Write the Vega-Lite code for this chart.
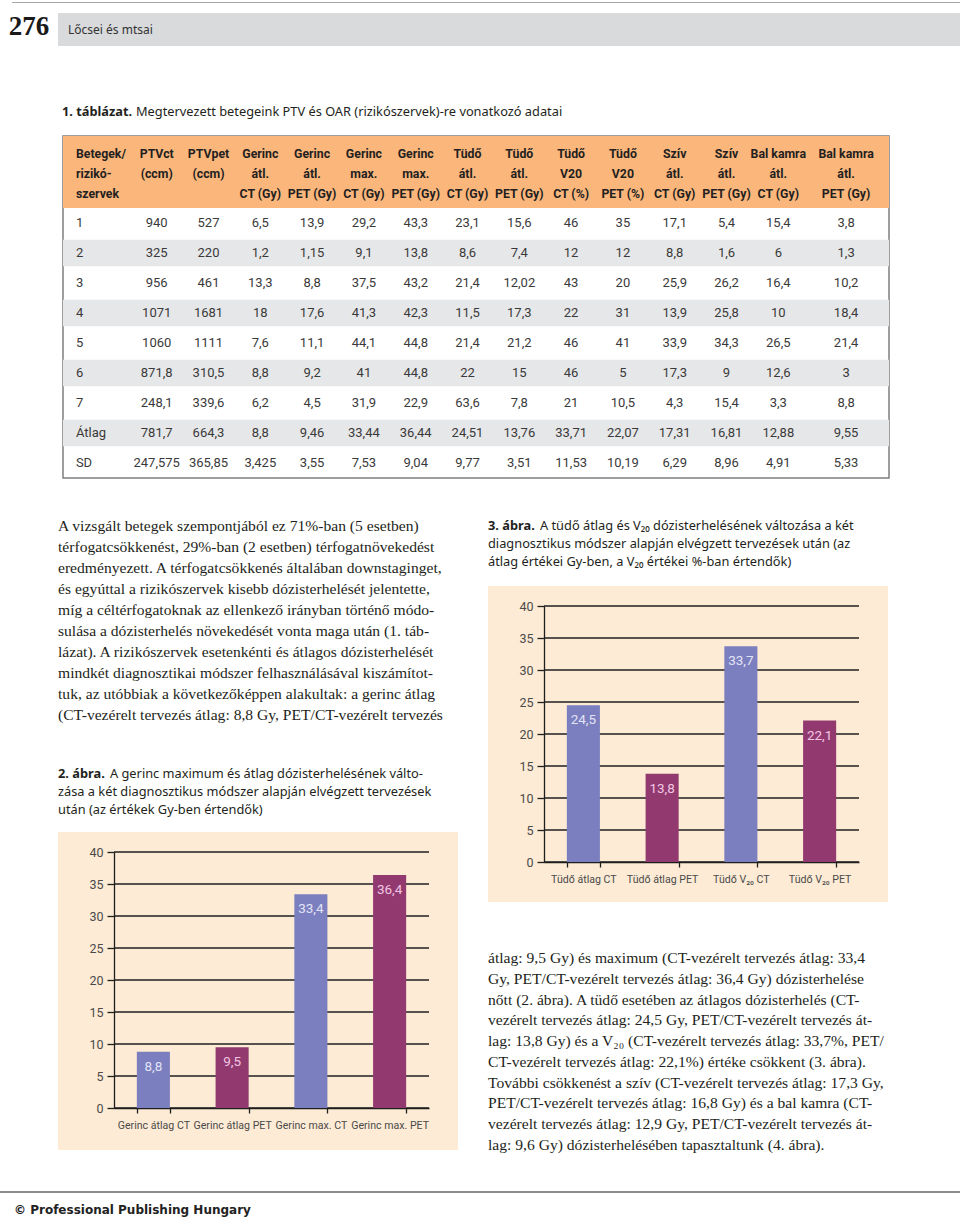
{
  "$schema": "https://vega.github.io/schema/vega-lite/v6.json",
  "padding": 0,
  "background": "white",
  "config": {
    "view": {"stroke": null},
    "concat": {"spacing": 0},
    "locale": {"number": {"decimal": ",", "thousands": " ", "grouping": [3], "currency": ["", " Ft"]}},
    "text": {"color": "#231f20"},
    "axisY": {"labelOverlap": false}
  },
  "datasets": {
    "fejresz": [
      {"resz": "oldalszam", "szoveg": "276"},
      {"resz": "elofej", "szoveg": "Lőcsei és mtsai"}
    ],
    "tablacim": [
      {"resz": "jelolo", "szoveg": "1. táblázat."},
      {"resz": "szoveg", "szoveg": "Megtervezett betegeink PTV és OAR (rizikószervek)-re vonatkozó adatai"}
    ],
    "fejlec": [
      {"oszlop": "beteg", "l1": "Betegek/", "l2": "rizikó-", "l3": "szervek"},
      {"oszlop": "ptv_ct", "l1": "PTVct", "l2": "(ccm)"},
      {"oszlop": "ptv_pet", "l1": "PTVpet", "l2": "(ccm)"},
      {"oszlop": "ger_atl_ct", "l1": "Gerinc", "l2": "átl.", "l3": "CT (Gy)"},
      {"oszlop": "ger_atl_pet", "l1": "Gerinc", "l2": "átl.", "l3": "PET (Gy)"},
      {"oszlop": "ger_max_ct", "l1": "Gerinc", "l2": "max.", "l3": "CT (Gy)"},
      {"oszlop": "ger_max_pet", "l1": "Gerinc", "l2": "max.", "l3": "PET (Gy)"},
      {"oszlop": "tud_atl_ct", "l1": "Tüdő", "l2": "átl.", "l3": "CT (Gy)"},
      {"oszlop": "tud_atl_pet", "l1": "Tüdő", "l2": "átl.", "l3": "PET (Gy)"},
      {"oszlop": "tud_v20_ct", "l1": "Tüdő", "l2": "V20", "l3": "CT (%)"},
      {"oszlop": "tud_v20_pet", "l1": "Tüdő", "l2": "V20", "l3": "PET (%)"},
      {"oszlop": "sziv_ct", "l1": "Szív", "l2": "átl.", "l3": "CT (Gy)"},
      {"oszlop": "sziv_pet", "l1": "Szív", "l2": "átl.", "l3": "PET (Gy)"},
      {"oszlop": "bk_ct", "l1": "Bal kamra", "l2": "átl.", "l3": "CT (Gy)"},
      {"oszlop": "bk_pet", "l1": "Bal kamra", "l2": "átl.", "l3": "PET (Gy)"}
    ],
    "tabla": [
      {"beteg": "1", "ptv_ct": 940, "ptv_pet": 527, "ger_atl_ct": 6.5, "ger_atl_pet": 13.9, "ger_max_ct": 29.2, "ger_max_pet": 43.3, "tud_atl_ct": 23.1, "tud_atl_pet": 15.6, "tud_v20_ct": 46, "tud_v20_pet": 35, "sziv_ct": 17.1, "sziv_pet": 5.4, "bk_ct": 15.4, "bk_pet": 3.8},
      {"beteg": "2", "ptv_ct": 325, "ptv_pet": 220, "ger_atl_ct": 1.2, "ger_atl_pet": 1.15, "ger_max_ct": 9.1, "ger_max_pet": 13.8, "tud_atl_ct": 8.6, "tud_atl_pet": 7.4, "tud_v20_ct": 12, "tud_v20_pet": 12, "sziv_ct": 8.8, "sziv_pet": 1.6, "bk_ct": 6, "bk_pet": 1.3},
      {"beteg": "3", "ptv_ct": 956, "ptv_pet": 461, "ger_atl_ct": 13.3, "ger_atl_pet": 8.8, "ger_max_ct": 37.5, "ger_max_pet": 43.2, "tud_atl_ct": 21.4, "tud_atl_pet": 12.02, "tud_v20_ct": 43, "tud_v20_pet": 20, "sziv_ct": 25.9, "sziv_pet": 26.2, "bk_ct": 16.4, "bk_pet": 10.2},
      {"beteg": "4", "ptv_ct": 1071, "ptv_pet": 1681, "ger_atl_ct": 18, "ger_atl_pet": 17.6, "ger_max_ct": 41.3, "ger_max_pet": 42.3, "tud_atl_ct": 11.5, "tud_atl_pet": 17.3, "tud_v20_ct": 22, "tud_v20_pet": 31, "sziv_ct": 13.9, "sziv_pet": 25.8, "bk_ct": 10, "bk_pet": 18.4},
      {"beteg": "5", "ptv_ct": 1060, "ptv_pet": 1111, "ger_atl_ct": 7.6, "ger_atl_pet": 11.1, "ger_max_ct": 44.1, "ger_max_pet": 44.8, "tud_atl_ct": 21.4, "tud_atl_pet": 21.2, "tud_v20_ct": 46, "tud_v20_pet": 41, "sziv_ct": 33.9, "sziv_pet": 34.3, "bk_ct": 26.5, "bk_pet": 21.4},
      {"beteg": "6", "ptv_ct": 871.8, "ptv_pet": 310.5, "ger_atl_ct": 8.8, "ger_atl_pet": 9.2, "ger_max_ct": 41, "ger_max_pet": 44.8, "tud_atl_ct": 22, "tud_atl_pet": 15, "tud_v20_ct": 46, "tud_v20_pet": 5, "sziv_ct": 17.3, "sziv_pet": 9, "bk_ct": 12.6, "bk_pet": 3},
      {"beteg": "7", "ptv_ct": 248.1, "ptv_pet": 339.6, "ger_atl_ct": 6.2, "ger_atl_pet": 4.5, "ger_max_ct": 31.9, "ger_max_pet": 22.9, "tud_atl_ct": 63.6, "tud_atl_pet": 7.8, "tud_v20_ct": 21, "tud_v20_pet": 10.5, "sziv_ct": 4.3, "sziv_pet": 15.4, "bk_ct": 3.3, "bk_pet": 8.8},
      {"beteg": "Átlag", "ptv_ct": 781.7, "ptv_pet": 664.3, "ger_atl_ct": 8.8, "ger_atl_pet": 9.46, "ger_max_ct": 33.44, "ger_max_pet": 36.44, "tud_atl_ct": 24.51, "tud_atl_pet": 13.76, "tud_v20_ct": 33.71, "tud_v20_pet": 22.07, "sziv_ct": 17.31, "sziv_pet": 16.81, "bk_ct": 12.88, "bk_pet": 9.55},
      {"beteg": "SD", "ptv_ct": 247.575, "ptv_pet": 365.85, "ger_atl_ct": 3.425, "ger_atl_pet": 3.55, "ger_max_ct": 7.53, "ger_max_pet": 9.04, "tud_atl_ct": 9.77, "tud_atl_pet": 3.51, "tud_v20_ct": 11.53, "tud_v20_pet": 10.19, "sziv_ct": 6.29, "sziv_pet": 8.96, "bk_ct": 4.91, "bk_pet": 5.33}
    ],
    "bal_szoveg": [
      {"sor": 1, "szoveg": "A vizsgált betegek szempontjából ez 71%-ban (5 esetben)"},
      {"sor": 2, "szoveg": "térfogatcsökkenést, 29%-ban (2 esetben) térfogatnövekedést"},
      {"sor": 3, "szoveg": "eredményezett. A térfogatcsökkenés általában downstaginget,"},
      {"sor": 4, "szoveg": "és egyúttal a rizikószervek kisebb dózisterhelését jelentette,"},
      {"sor": 5, "szoveg": "míg a céltérfogatoknak az ellenkező irányban történő módo-"},
      {"sor": 6, "szoveg": "sulása a dózisterhelés növekedését vonta maga után (1. táb-"},
      {"sor": 7, "szoveg": "lázat). A rizikószervek esetenkénti és átlagos dózisterhelését"},
      {"sor": 8, "szoveg": "mindkét diagnosztikai módszer felhasználásával kiszámítot-"},
      {"sor": 9, "szoveg": "tuk, az utóbbiak a következőképpen alakultak: a gerinc átlag"},
      {"sor": 10, "szoveg": "(CT-vezérelt tervezés átlag: 8,8 Gy, PET/CT-vezérelt tervezés"}
    ],
    "cim2": [
      {"sor": 1, "resz": "jelolo", "szoveg": "2. ábra."},
      {"sor": 1, "resz": "szoveg", "szoveg": "A gerinc maximum és átlag dózisterhelésének válto-"},
      {"sor": 2, "resz": "szoveg", "szoveg": "zása a két diagnosztikus módszer alapján elvégzett tervezések"},
      {"sor": 3, "resz": "szoveg", "szoveg": "után (az értékek Gy-ben értendők)"}
    ],
    "cim3": [
      {"sor": 1, "resz": "jelolo", "szoveg": "3. ábra."},
      {"sor": 1, "resz": "szoveg", "szoveg": "A tüdő átlag és V₂₀ dózisterhelésének változása a két"},
      {"sor": 2, "resz": "szoveg", "szoveg": "diagnosztikus módszer alapján elvégzett tervezések után (az"},
      {"sor": 3, "resz": "szoveg", "szoveg": "átlag értékei Gy-ben, a V₂₀ értékei %-ban értendők)"}
    ],
    "abra2": [
      {"kat": "Gerinc átlag CT", "modszer": "CT", "ertek": 8.8},
      {"kat": "Gerinc átlag PET", "modszer": "PET", "ertek": 9.5},
      {"kat": "Gerinc max. CT", "modszer": "CT", "ertek": 33.4},
      {"kat": "Gerinc max. PET", "modszer": "PET", "ertek": 36.4}
    ],
    "abra3": [
      {"kat": "Tüdő átlag CT", "modszer": "CT", "ertek": 24.5},
      {"kat": "Tüdő átlag PET", "modszer": "PET", "ertek": 13.8},
      {"kat": "Tüdő V₂₀ CT", "modszer": "CT", "ertek": 33.7},
      {"kat": "Tüdő V₂₀ PET", "modszer": "PET", "ertek": 22.1}
    ],
    "racs": [{"t": 0}, {"t": 5}, {"t": 10}, {"t": 15}, {"t": 20}, {"t": 25}, {"t": 30}, {"t": 35}, {"t": 40}],
    "jobb_szoveg": [
      {"sor": 1, "szoveg": "átlag: 9,5 Gy) és maximum (CT-vezérelt tervezés átlag: 33,4"},
      {"sor": 2, "szoveg": "Gy, PET/CT-vezérelt tervezés átlag: 36,4 Gy) dózisterhelése"},
      {"sor": 3, "szoveg": "nőtt (2. ábra). A tüdő esetében az átlagos dózisterhelés (CT-"},
      {"sor": 4, "szoveg": "vezérelt tervezés átlag: 24,5 Gy, PET/CT-vezérelt tervezés át-"},
      {"sor": 5, "szoveg": "lag: 13,8 Gy) és a V₂₀ (CT-vezérelt tervezés átlag: 33,7%, PET/"},
      {"sor": 6, "szoveg": "CT-vezérelt tervezés átlag: 22,1%) értéke csökkent (3. ábra)."},
      {"sor": 7, "szoveg": "További csökkenést a szív (CT-vezérelt tervezés átlag: 17,3 Gy,"},
      {"sor": 8, "szoveg": "PET/CT-vezérelt tervezés átlag: 16,8 Gy) és a bal kamra (CT-"},
      {"sor": 9, "szoveg": "vezérelt tervezés átlag: 12,9 Gy, PET/CT-vezérelt tervezés át-"},
      {"sor": 10, "szoveg": "lag: 9,6 Gy) dózisterhelésében tapasztaltunk (4. ábra)."}
    ],
    "lablec": [{"szoveg": "© Professional Publishing Hungary"}]
  },
  "vconcat": [
    {"width": 1, "height": 2, "data": {"values": []}, "mark": "point"},
    {"hconcat": [
      {"width": 12, "height": 1, "data": {"values": []}, "mark": "point"},
      {"width": 948, "height": 1, "view": {"fill": "#a6a6a6"}, "data": {"values": []}, "mark": "point"}
    ]},
    {"width": 1, "height": 9, "data": {"values": []}, "mark": "point"},
    {"hconcat": [
      {"width": 58, "height": 33, "data": {"name": "fejresz"},
       "transform": [{"filter": "datum.resz == 'oldalszam'"}],
       "mark": {"type": "text", "font": "Liberation Serif", "fontSize": 27, "fontWeight": "bold", "baseline": "middle", "dy": -3, "color": "#1a1a1a"},
       "encoding": {"text": {"field": "szoveg", "type": "nominal"}}},
      {"width": 902, "height": 33, "view": {"fill": "#d9dadc"}, "data": {"name": "fejresz"},
       "transform": [{"filter": "datum.resz == 'elofej'"}],
       "mark": {"type": "text", "font": "Noto Sans", "fontSize": 12, "align": "left", "baseline": "middle", "dx": 10, "color": "#333333"},
       "encoding": {
         "x": {"datum": "bal", "type": "nominal", "scale": {"type": "point", "padding": 0, "align": 0}, "axis": null},
         "text": {"field": "szoveg", "type": "nominal"}}}
    ]},
    {"width": 1, "height": 56, "data": {"values": []}, "mark": "point"},
    {"hconcat": [
      {"width": 62, "height": 1, "data": {"values": []}, "mark": "point"},
      {"width": 620, "height": 20, "data": {"name": "tablacim"},
       "encoding": {
         "x": {"datum": "bal", "type": "nominal", "scale": {"type": "point", "padding": 0, "align": 0}, "axis": null},
         "text": {"field": "szoveg", "type": "nominal"}},
       "layer": [
         {"transform": [{"filter": "datum.resz == 'jelolo'"}],
          "mark": {"type": "text", "font": "Noto Sans", "fontSize": 12.8, "fontWeight": "bold", "align": "left", "baseline": "middle"}},
         {"transform": [{"filter": "datum.resz == 'szoveg'"}],
          "mark": {"type": "text", "font": "Noto Sans", "fontSize": 12.8, "align": "left", "baseline": "middle", "dx": 74}}
       ]}
    ]},
    {"width": 1, "height": 13, "data": {"values": []}, "mark": "point"},
    {"hconcat": [
      {"width": 62, "height": 1, "data": {"values": []}, "mark": "point"},
      {"width": 826, "height": 342,
       "view": {"stroke": "#7f7f7f", "strokeWidth": 1.5},
       "layer": [
         {"data": {"name": "fejlec"},
          "transform": [{"fold": ["l1", "l2", "l3"], "as": ["sor", "szoveg"]}],
          "mark": {"type": "rect", "color": "#fbb67c"},
          "encoding": {"y": {"field": "sor", "type": "ordinal", "scale": {"type": "band", "domain": ["l1", "l2", "l3"], "range": [0, 72], "paddingInner": 0, "paddingOuter": 0}, "axis": null}}},
         {"data": {"name": "fejlec"},
          "transform": [{"fold": ["l1", "l2", "l3"], "as": ["sor", "szoveg"]}, {"filter": "isValid(datum.szoveg) && datum.oszlop == 'beteg'"}],
          "mark": {"type": "text", "font": "Roboto", "fontSize": 12.3, "fontWeight": "bold", "align": "left", "baseline": "middle", "dx": -29},
          "encoding": {
            "x": {"field": "oszlop", "type": "nominal", "scale": {"type": "point", "domain": ["beteg", "ptv_ct", "ptv_pet", "ger_atl_ct", "ger_atl_pet", "ger_max_ct", "ger_max_pet", "tud_atl_ct", "tud_atl_pet", "tud_v20_ct", "tud_v20_pet", "sziv_ct", "sziv_pet", "bk_ct", "bk_pet"], "padding": 0.973, "align": 0.4157}, "axis": null},
            "y": {"field": "sor", "type": "ordinal", "scale": {"type": "point", "domain": ["l1", "l2", "l3"], "range": [18, 58], "padding": 0}, "axis": null},
            "text": {"field": "szoveg", "type": "nominal"}}},
         {"data": {"name": "fejlec"},
          "transform": [{"fold": ["l1", "l2", "l3"], "as": ["sor", "szoveg"]}, {"filter": "isValid(datum.szoveg) && datum.oszlop != 'beteg' && datum.oszlop != 'bk_pet'"}],
          "mark": {"type": "text", "font": "Roboto", "fontSize": 12.3, "fontWeight": "bold", "align": "center", "baseline": "middle"},
          "encoding": {
            "x": {"field": "oszlop", "type": "nominal"},
            "y": {"field": "sor", "type": "ordinal", "scale": {"type": "point", "domain": ["l1", "l2", "l3"], "range": [18, 58], "padding": 0}, "axis": null},
            "text": {"field": "szoveg", "type": "nominal"}}},
         {"data": {"name": "fejlec"},
          "transform": [{"fold": ["l1", "l2", "l3"], "as": ["sor", "szoveg"]}, {"filter": "isValid(datum.szoveg) && datum.oszlop == 'bk_pet'"}],
          "mark": {"type": "text", "font": "Roboto", "fontSize": 12.3, "fontWeight": "bold", "align": "center", "baseline": "middle", "dx": 16},
          "encoding": {
            "x": {"field": "oszlop", "type": "nominal"},
            "y": {"field": "sor", "type": "ordinal", "scale": {"type": "point", "domain": ["l1", "l2", "l3"], "range": [18, 58], "padding": 0}, "axis": null},
            "text": {"field": "szoveg", "type": "nominal"}}},
         {"data": {"name": "tabla"},
          "transform": [{"window": [{"op": "row_number", "as": "sorszam"}]}, {"filter": "datum.sorszam % 2 == 0"}],
          "mark": {"type": "rect", "color": "#e6e7e8"},
          "encoding": {"y": {"field": "beteg", "type": "ordinal", "scale": {"type": "band", "domain": ["1", "2", "3", "4", "5", "6", "7", "Átlag", "SD"], "range": [72, 342], "paddingInner": 0.12, "paddingOuter": 0.06}, "axis": null}}},
         {"data": {"name": "tabla"},
          "mark": {"type": "text", "font": "Roboto", "fontSize": 13, "align": "left", "baseline": "middle", "dx": -29, "color": "#3a3a3a"},
          "encoding": {
            "x": {"datum": "beteg", "type": "nominal"},
            "y": {"field": "beteg", "type": "ordinal", "scale": {"type": "band", "domain": ["1", "2", "3", "4", "5", "6", "7", "Átlag", "SD"], "range": [72, 342], "paddingInner": 0.12, "paddingOuter": 0.06}, "axis": null},
            "text": {"field": "beteg", "type": "nominal"}}},
         {"data": {"name": "tabla"},
          "transform": [{"fold": ["ptv_ct", "ptv_pet", "ger_atl_ct", "ger_atl_pet", "ger_max_ct", "ger_max_pet", "tud_atl_ct", "tud_atl_pet", "tud_v20_ct", "tud_v20_pet", "sziv_ct", "sziv_pet", "bk_ct"], "as": ["oszlop", "ertek"]}],
          "mark": {"type": "text", "font": "Roboto", "fontSize": 13, "align": "center", "baseline": "middle", "color": "#3a3a3a"},
          "encoding": {
            "x": {"field": "oszlop", "type": "nominal"},
            "y": {"field": "beteg", "type": "ordinal", "scale": {"type": "band", "domain": ["1", "2", "3", "4", "5", "6", "7", "Átlag", "SD"], "range": [72, 342], "paddingInner": 0.12, "paddingOuter": 0.06}, "axis": null},
            "text": {"field": "ertek", "type": "quantitative", "format": "~f"}}},
         {"data": {"name": "tabla"},
          "mark": {"type": "text", "font": "Roboto", "fontSize": 13, "align": "center", "baseline": "middle", "dx": 16, "color": "#3a3a3a"},
          "encoding": {
            "x": {"datum": "bk_pet", "type": "nominal"},
            "y": {"field": "beteg", "type": "ordinal", "scale": {"type": "band", "domain": ["1", "2", "3", "4", "5", "6", "7", "Átlag", "SD"], "range": [72, 342], "paddingInner": 0.12, "paddingOuter": 0.06}, "axis": null},
            "text": {"field": "bk_pet", "type": "quantitative", "format": "~f"}}}
       ],
       "resolve": {"scale": {"y": "independent"}}}
    ]},
    {"width": 1, "height": 36, "data": {"values": []}, "mark": "point"},
    {"hconcat": [
      {"width": 58, "height": 1, "data": {"values": []}, "mark": "point"},
      {"vconcat": [
        {"width": 420, "height": 210, "data": {"name": "bal_szoveg"},
         "mark": {"type": "text", "font": "Liberation Serif", "fontSize": 15.6, "align": "left", "baseline": "middle"},
         "encoding": {
           "x": {"datum": "bal", "type": "nominal", "scale": {"type": "point", "padding": 0, "align": 0}, "axis": null},
           "y": {"field": "sor", "type": "ordinal", "scale": {"type": "band", "paddingInner": 0, "paddingOuter": 0}, "axis": null},
           "text": {"field": "szoveg", "type": "nominal"}}},
        {"width": 1, "height": 40, "data": {"values": []}, "mark": "point"},
        {"width": 410, "height": 54, "data": {"name": "cim2"},
         "encoding": {
           "x": {"datum": "bal", "type": "nominal", "scale": {"type": "point", "padding": 0, "align": 0}, "axis": null},
           "y": {"field": "sor", "type": "ordinal", "scale": {"type": "band", "domain": [1, 2, 3], "paddingInner": 0, "paddingOuter": 0}, "axis": null},
           "text": {"field": "szoveg", "type": "nominal"}},
         "layer": [
           {"transform": [{"filter": "datum.resz == 'jelolo'"}],
            "mark": {"type": "text", "font": "Noto Sans", "fontSize": 12.8, "fontWeight": "bold", "align": "left", "baseline": "middle"}},
           {"transform": [{"filter": "datum.resz == 'szoveg' && datum.sor == 1"}],
            "mark": {"type": "text", "font": "Noto Sans", "fontSize": 12.8, "align": "left", "baseline": "middle", "dx": 52}},
           {"transform": [{"filter": "datum.resz == 'szoveg' && datum.sor > 1"}],
            "mark": {"type": "text", "font": "Noto Sans", "fontSize": 12.8, "align": "left", "baseline": "middle"}}
         ]},
        {"width": 1, "height": 13, "data": {"values": []}, "mark": "point"},
        {"width": 400, "height": 318, "view": {"fill": "#fdebd5"},
         "layer": [
           {"data": {"name": "racs"},
            "mark": {"type": "rule", "color": "#1f1f1f", "strokeWidth": 1.3},
            "encoding": {
              "y": {"field": "t", "type": "quantitative", "title": null, "scale": {"domain": [0, 40], "range": [276, 20]},
                    "axis": {"title": null, "offset": -56, "values": [0, 5, 10, 15, 20, 25, 30, 35, 40], "tickCount": 9, "grid": false, "labelOverlap": false, "domainColor": "#1f1f1f", "domainWidth": 1.3, "tickColor": "#1f1f1f", "tickWidth": 1.3, "tickSize": 7, "labelFont": "Roboto", "labelFontSize": 12.5, "labelColor": "#4a4a4a", "labelPadding": 4}},
              "x": {"datum": 0, "type": "quantitative", "scale": {"domain": [0, 1], "range": [56, 371]}, "axis": null},
              "x2": {"datum": 1}}},
           {"data": {"name": "abra2"},
            "mark": {"type": "bar"},
            "encoding": {
              "x": {"field": "kat", "type": "nominal", "sort": null, "scale": {"range": [56, 371], "paddingInner": 0.58, "paddingOuter": 0.29},
                    "axis": {"title": null, "offset": -42, "domainColor": "#1f1f1f", "domainWidth": 1.3, "tickColor": "#1f1f1f", "tickWidth": 1.3, "tickSize": 5, "tickBand": "extent", "labelAngle": 0, "labelFont": "Roboto", "labelFontSize": 10.6, "labelColor": "#4a4a4a", "labelPadding": 7, "labelOverlap": false}},
              "y": {"field": "ertek", "type": "quantitative", "title": null, "stack": null,
                    "axis": {"title": null, "offset": -56, "values": [0, 5, 10, 15, 20, 25, 30, 35, 40], "tickCount": 9, "grid": false, "labelOverlap": false, "domainColor": "#1f1f1f", "domainWidth": 1.3, "tickColor": "#1f1f1f", "tickWidth": 1.3, "tickSize": 7, "labelFont": "Roboto", "labelFontSize": 12.5, "labelColor": "#4a4a4a", "labelPadding": 4}},
              "fill": {"field": "modszer", "type": "nominal", "scale": {"domain": ["CT", "PET"], "range": ["#7b7fbf", "#923a70"]}, "legend": null}}},
           {"data": {"name": "abra2"},
            "mark": {"type": "text", "font": "Roboto", "fontSize": 13.5, "baseline": "middle", "dy": 15},
            "encoding": {
              "x": {"field": "kat", "type": "nominal", "sort": null, "scale": {"range": [56, 371], "paddingInner": 0.58, "paddingOuter": 0.29}, "axis": null},
              "y": {"field": "ertek", "type": "quantitative", "title": null,
                    "axis": {"title": null, "offset": -56, "values": [0, 5, 10, 15, 20, 25, 30, 35, 40], "tickCount": 9, "grid": false, "labelOverlap": false, "domainColor": "#1f1f1f", "domainWidth": 1.3, "tickColor": "#1f1f1f", "tickWidth": 1.3, "tickSize": 7, "labelFont": "Roboto", "labelFontSize": 12.5, "labelColor": "#4a4a4a", "labelPadding": 4}},
              "text": {"field": "ertek", "type": "quantitative", "format": "~f"},
              "color": {"field": "modszer", "type": "nominal", "scale": {"domain": ["CT", "PET"], "range": ["#e2e3f6", "#f2c6e3"]}, "legend": null}}}
         ],
         "resolve": {"scale": {"x": "independent"}}}
      ]},
      {"width": 10, "height": 1, "data": {"values": []}, "mark": "point"},
      {"vconcat": [
        {"width": 1, "height": 2, "data": {"values": []}, "mark": "point"},
        {"width": 410, "height": 54, "data": {"name": "cim3"},
         "encoding": {
           "x": {"datum": "bal", "type": "nominal", "scale": {"type": "point", "padding": 0, "align": 0}, "axis": null},
           "y": {"field": "sor", "type": "ordinal", "scale": {"type": "band", "domain": [1, 2, 3], "paddingInner": 0, "paddingOuter": 0}, "axis": null},
           "text": {"field": "szoveg", "type": "nominal"}},
         "layer": [
           {"transform": [{"filter": "datum.resz == 'jelolo'"}],
            "mark": {"type": "text", "font": "Noto Sans", "fontSize": 12.8, "fontWeight": "bold", "align": "left", "baseline": "middle"}},
           {"transform": [{"filter": "datum.resz == 'szoveg' && datum.sor == 1"}],
            "mark": {"type": "text", "font": "Noto Sans", "fontSize": 12.8, "align": "left", "baseline": "middle", "dx": 52}},
           {"transform": [{"filter": "datum.resz == 'szoveg' && datum.sor > 1"}],
            "mark": {"type": "text", "font": "Noto Sans", "fontSize": 12.8, "align": "left", "baseline": "middle"}}
         ]},
        {"width": 1, "height": 15, "data": {"values": []}, "mark": "point"},
        {"width": 400, "height": 316, "view": {"fill": "#fdebd5"},
         "layer": [
           {"data": {"name": "racs"},
            "mark": {"type": "rule", "color": "#1f1f1f", "strokeWidth": 1.3},
            "encoding": {
              "y": {"field": "t", "type": "quantitative", "title": null, "scale": {"domain": [0, 40], "range": [276, 20]},
                    "axis": {"title": null, "offset": -56, "values": [0, 5, 10, 15, 20, 25, 30, 35, 40], "tickCount": 9, "grid": false, "labelOverlap": false, "domainColor": "#1f1f1f", "domainWidth": 1.3, "tickColor": "#1f1f1f", "tickWidth": 1.3, "tickSize": 7, "labelFont": "Roboto", "labelFontSize": 12.5, "labelColor": "#4a4a4a", "labelPadding": 4}},
              "x": {"datum": 0, "type": "quantitative", "scale": {"domain": [0, 1], "range": [56, 371]}, "axis": null},
              "x2": {"datum": 1}}},
           {"data": {"name": "abra3"},
            "mark": {"type": "bar"},
            "encoding": {
              "x": {"field": "kat", "type": "nominal", "sort": null, "scale": {"range": [56, 371], "paddingInner": 0.58, "paddingOuter": 0.29},
                    "axis": {"title": null, "offset": -40, "domainColor": "#1f1f1f", "domainWidth": 1.3, "tickColor": "#1f1f1f", "tickWidth": 1.3, "tickSize": 5, "tickBand": "extent", "labelAngle": 0, "labelFont": "Roboto", "labelFontSize": 10.6, "labelColor": "#4a4a4a", "labelPadding": 7, "labelOverlap": false}},
              "y": {"field": "ertek", "type": "quantitative", "title": null, "stack": null,
                    "axis": {"title": null, "offset": -56, "values": [0, 5, 10, 15, 20, 25, 30, 35, 40], "tickCount": 9, "grid": false, "labelOverlap": false, "domainColor": "#1f1f1f", "domainWidth": 1.3, "tickColor": "#1f1f1f", "tickWidth": 1.3, "tickSize": 7, "labelFont": "Roboto", "labelFontSize": 12.5, "labelColor": "#4a4a4a", "labelPadding": 4}},
              "fill": {"field": "modszer", "type": "nominal", "scale": {"domain": ["CT", "PET"], "range": ["#7b7fbf", "#923a70"]}, "legend": null}}},
           {"data": {"name": "abra3"},
            "mark": {"type": "text", "font": "Roboto", "fontSize": 13.5, "baseline": "middle", "dy": 15},
            "encoding": {
              "x": {"field": "kat", "type": "nominal", "sort": null, "scale": {"range": [56, 371], "paddingInner": 0.58, "paddingOuter": 0.29}, "axis": null},
              "y": {"field": "ertek", "type": "quantitative", "title": null,
                    "axis": {"title": null, "offset": -56, "values": [0, 5, 10, 15, 20, 25, 30, 35, 40], "tickCount": 9, "grid": false, "labelOverlap": false, "domainColor": "#1f1f1f", "domainWidth": 1.3, "tickColor": "#1f1f1f", "tickWidth": 1.3, "tickSize": 7, "labelFont": "Roboto", "labelFontSize": 12.5, "labelColor": "#4a4a4a", "labelPadding": 4}},
              "text": {"field": "ertek", "type": "quantitative", "format": "~f"},
              "color": {"field": "modszer", "type": "nominal", "scale": {"domain": ["CT", "PET"], "range": ["#e2e3f6", "#f2c6e3"]}, "legend": null}}}
         ],
         "resolve": {"scale": {"x": "independent"}}},
        {"width": 1, "height": 46, "data": {"values": []}, "mark": "point"},
        {"width": 420, "height": 207, "data": {"name": "jobb_szoveg"},
         "mark": {"type": "text", "font": "Liberation Serif", "fontSize": 15.6, "align": "left", "baseline": "middle"},
         "encoding": {
           "x": {"datum": "bal", "type": "nominal", "scale": {"type": "point", "padding": 0, "align": 0}, "axis": null},
           "y": {"field": "sor", "type": "ordinal", "scale": {"type": "band", "paddingInner": 0, "paddingOuter": 0}, "axis": null},
           "text": {"field": "szoveg", "type": "nominal"}}}
      ]}
    ]},
    {"width": 1, "height": 36, "data": {"values": []}, "mark": "point"},
    {"width": 960, "height": 2, "view": {"fill": "#8c8c8c"}, "data": {"values": []}, "mark": "point"},
    {"width": 1, "height": 7, "data": {"values": []}, "mark": "point"},
    {"hconcat": [
      {"width": 14, "height": 1, "data": {"values": []}, "mark": "point"},
      {"width": 500, "height": 20, "data": {"name": "lablec"},
       "mark": {"type": "text", "font": "DejaVu Sans", "fontSize": 12, "fontWeight": "bold", "align": "left", "baseline": "middle", "color": "#222222"},
       "encoding": {
         "x": {"datum": "bal", "type": "nominal", "scale": {"type": "point", "padding": 0, "align": 0}, "axis": null},
         "text": {"field": "szoveg", "type": "nominal"}}}
    ]}
  ]
}
